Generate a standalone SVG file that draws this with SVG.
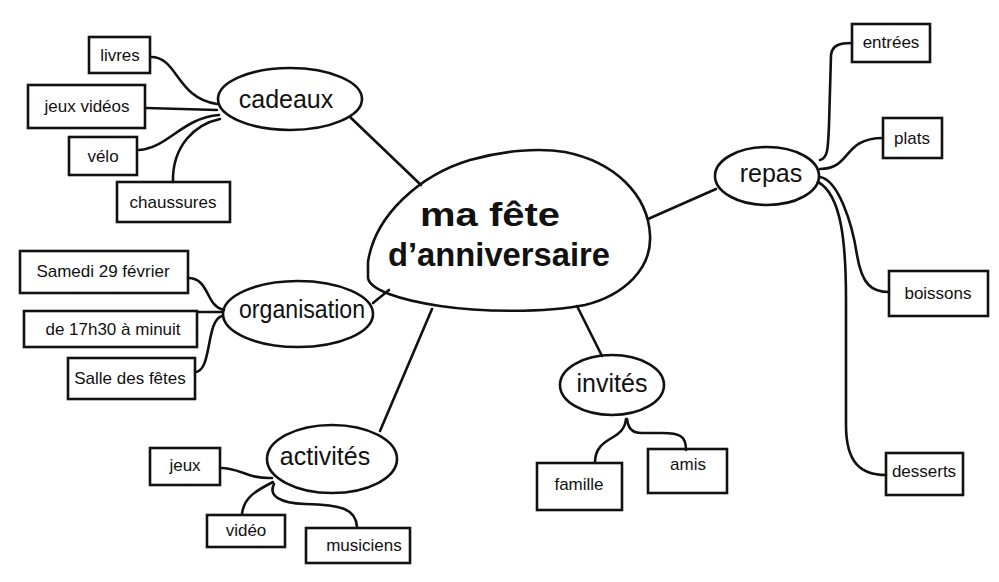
<svg xmlns="http://www.w3.org/2000/svg" width="999" height="582" viewBox="0 0 999 582">
<style>
.bg{fill:#ffffff}
.box{fill:none;stroke:#111;stroke-width:2.6;stroke-linejoin:miter}
.ell{fill:none;stroke:#111;stroke-width:2.6}
.con{fill:none;stroke:#111;stroke-width:2.6;stroke-linecap:round}
.t{font-family:"Liberation Sans",Arial,sans-serif;font-size:17px;fill:#111;text-anchor:middle}
.h{font-family:"Liberation Sans",Arial,sans-serif;font-size:25px;fill:#111;text-anchor:middle}
.c{font-family:"Liberation Sans",Arial,sans-serif;font-size:34px;font-weight:bold;fill:#111;text-anchor:middle}
</style>
<rect class="bg" x="0" y="0" width="999" height="582"/>
<g id="connectors">
  <path class="con" d="M350,117 L421,185"/>
  <path class="con" d="M373,303 L389,290"/>
  <path class="con" d="M380,431 L432,309"/>
  <path class="con" d="M577,306 L602,356"/>
  <path class="con" d="M648,219 L716,189"/>
  <path class="con" d="M151,57 C178,57 176,98 217,104"/>
  <path class="con" d="M146,108 L217,110"/>
  <path class="con" d="M139,150 C168,148 182,118 219,115"/>
  <path class="con" d="M173,182 C172,145 196,124 220,119"/>
  <path class="con" d="M188,278 C210,278 205,306 224,310"/>
  <path class="con" d="M198,312 L222,312"/>
  <path class="con" d="M196,372 C212,370 206,320 222,316"/>
  <path class="con" d="M221,468 C240,468 248,479 272,478"/>
  <path class="con" d="M242,514 C244,496 258,490 273,482"/>
  <path class="con" d="M357,527 C356,508 340,505 305,504 C280,503 268,496 274,484"/>
  <path class="con" d="M820,160 C828,158 828,148 829,125 L831,55 C832,45 840,43 852,43"/>
  <path class="con" d="M820,169 C852,169 842,138 883,138"/>
  <path class="con" d="M820,177 C838,180 852,222 857,255 C862,285 872,292 889,292"/>
  <path class="con" d="M818,182 C842,195 846,245 846,300 L846,425 C846,462 860,475 886,475"/>
  <path class="con" d="M595,463 C595,435 624,442 626,419"/>
  <path class="con" d="M686,450 C686,436 680,433 662,433 L642,433 C630,433 628,426 627,419"/>
</g>
<g id="center">
  <path class="ell" d="M368,262 C375,215 420,175 470,160 C505,150 540,148 565,152 C615,162 648,195 650,235 C652,268 625,295 585,305 C545,313 480,312 440,306 C400,300 370,290 368,278 Z"/>
  <text class="c" x="490" y="226" textLength="140" lengthAdjust="spacingAndGlyphs">ma fête</text>
  <text class="c" x="499" y="266" textLength="222" lengthAdjust="spacingAndGlyphs">d’anniversaire</text>
</g>
<g id="cadeaux">
  <ellipse class="ell" cx="290" cy="99" rx="72" ry="31"/>
  <text class="h" x="286" y="108">cadeaux</text>
</g>
<g id="livres">
  <rect class="box" x="89" y="37" width="61" height="36"/>
  <text class="t" x="120" y="61">livres</text>
</g>
<g id="jeux-videos">
  <rect class="box" x="28" y="85" width="117" height="43"/>
  <text class="t" x="87" y="112">jeux vidéos</text>
</g>
<g id="velo">
  <rect class="box" x="69" y="137" width="68" height="38"/>
  <text class="t" x="103" y="162">vélo</text>
</g>
<g id="chaussures">
  <rect class="box" x="117" y="182" width="113" height="40"/>
  <text class="t" x="173" y="208">chaussures</text>
</g>
<g id="organisation">
  <ellipse class="ell" cx="298" cy="314" rx="75" ry="33"/>
  <text class="h" x="302" y="318" textLength="126" lengthAdjust="spacingAndGlyphs">organisation</text>
</g>
<g id="samedi">
  <rect class="box" x="20" y="251" width="168" height="42"/>
  <text class="t" x="103" y="277">Samedi 29 février</text>
</g>
<g id="horaire">
  <rect class="box" x="24" y="311" width="173" height="36"/>
  <text class="t" x="113" y="335">de 17h30 à minuit</text>
</g>
<g id="salle">
  <rect class="box" x="68" y="358" width="127" height="41"/>
  <text class="t" x="130" y="384">Salle des fêtes</text>
</g>
<g id="activites">
  <ellipse class="ell" cx="332" cy="459" rx="65" ry="34"/>
  <text class="h" x="325" y="465">activités</text>
</g>
<g id="jeux">
  <rect class="box" x="150" y="448" width="70" height="37"/>
  <text class="t" x="185" y="471">jeux</text>
</g>
<g id="video">
  <rect class="box" x="207" y="515" width="78" height="32"/>
  <text class="t" x="246" y="536">vidéo</text>
</g>
<g id="musiciens">
  <rect class="box" x="306" y="528" width="104" height="35"/>
  <text class="t" x="364" y="551">musiciens</text>
</g>
<g id="repas">
  <ellipse class="ell" cx="767" cy="176" rx="52" ry="29"/>
  <text class="h" x="771" y="182">repas</text>
</g>
<g id="entrees">
  <rect class="box" x="852" y="24" width="78" height="38"/>
  <text class="t" x="891" y="48">entrées</text>
</g>
<g id="plats">
  <rect class="box" x="883" y="118" width="59" height="40"/>
  <text class="t" x="912" y="144">plats</text>
</g>
<g id="boissons">
  <rect class="box" x="889" y="271" width="99" height="45"/>
  <text class="t" x="938" y="299">boissons</text>
</g>
<g id="desserts">
  <rect class="box" x="886" y="453" width="77" height="42"/>
  <text class="t" x="924" y="477">desserts</text>
</g>
<g id="invites">
  <ellipse class="ell" cx="612" cy="385" rx="52" ry="30"/>
  <text class="h" x="612" y="392">invités</text>
</g>
<g id="famille">
  <rect class="box" x="537" y="463" width="85" height="47"/>
  <text class="t" x="579" y="490">famille</text>
</g>
<g id="amis">
  <rect class="box" x="648" y="449" width="79" height="44"/>
  <text class="t" x="688" y="470">amis</text>
</g>
</svg>
